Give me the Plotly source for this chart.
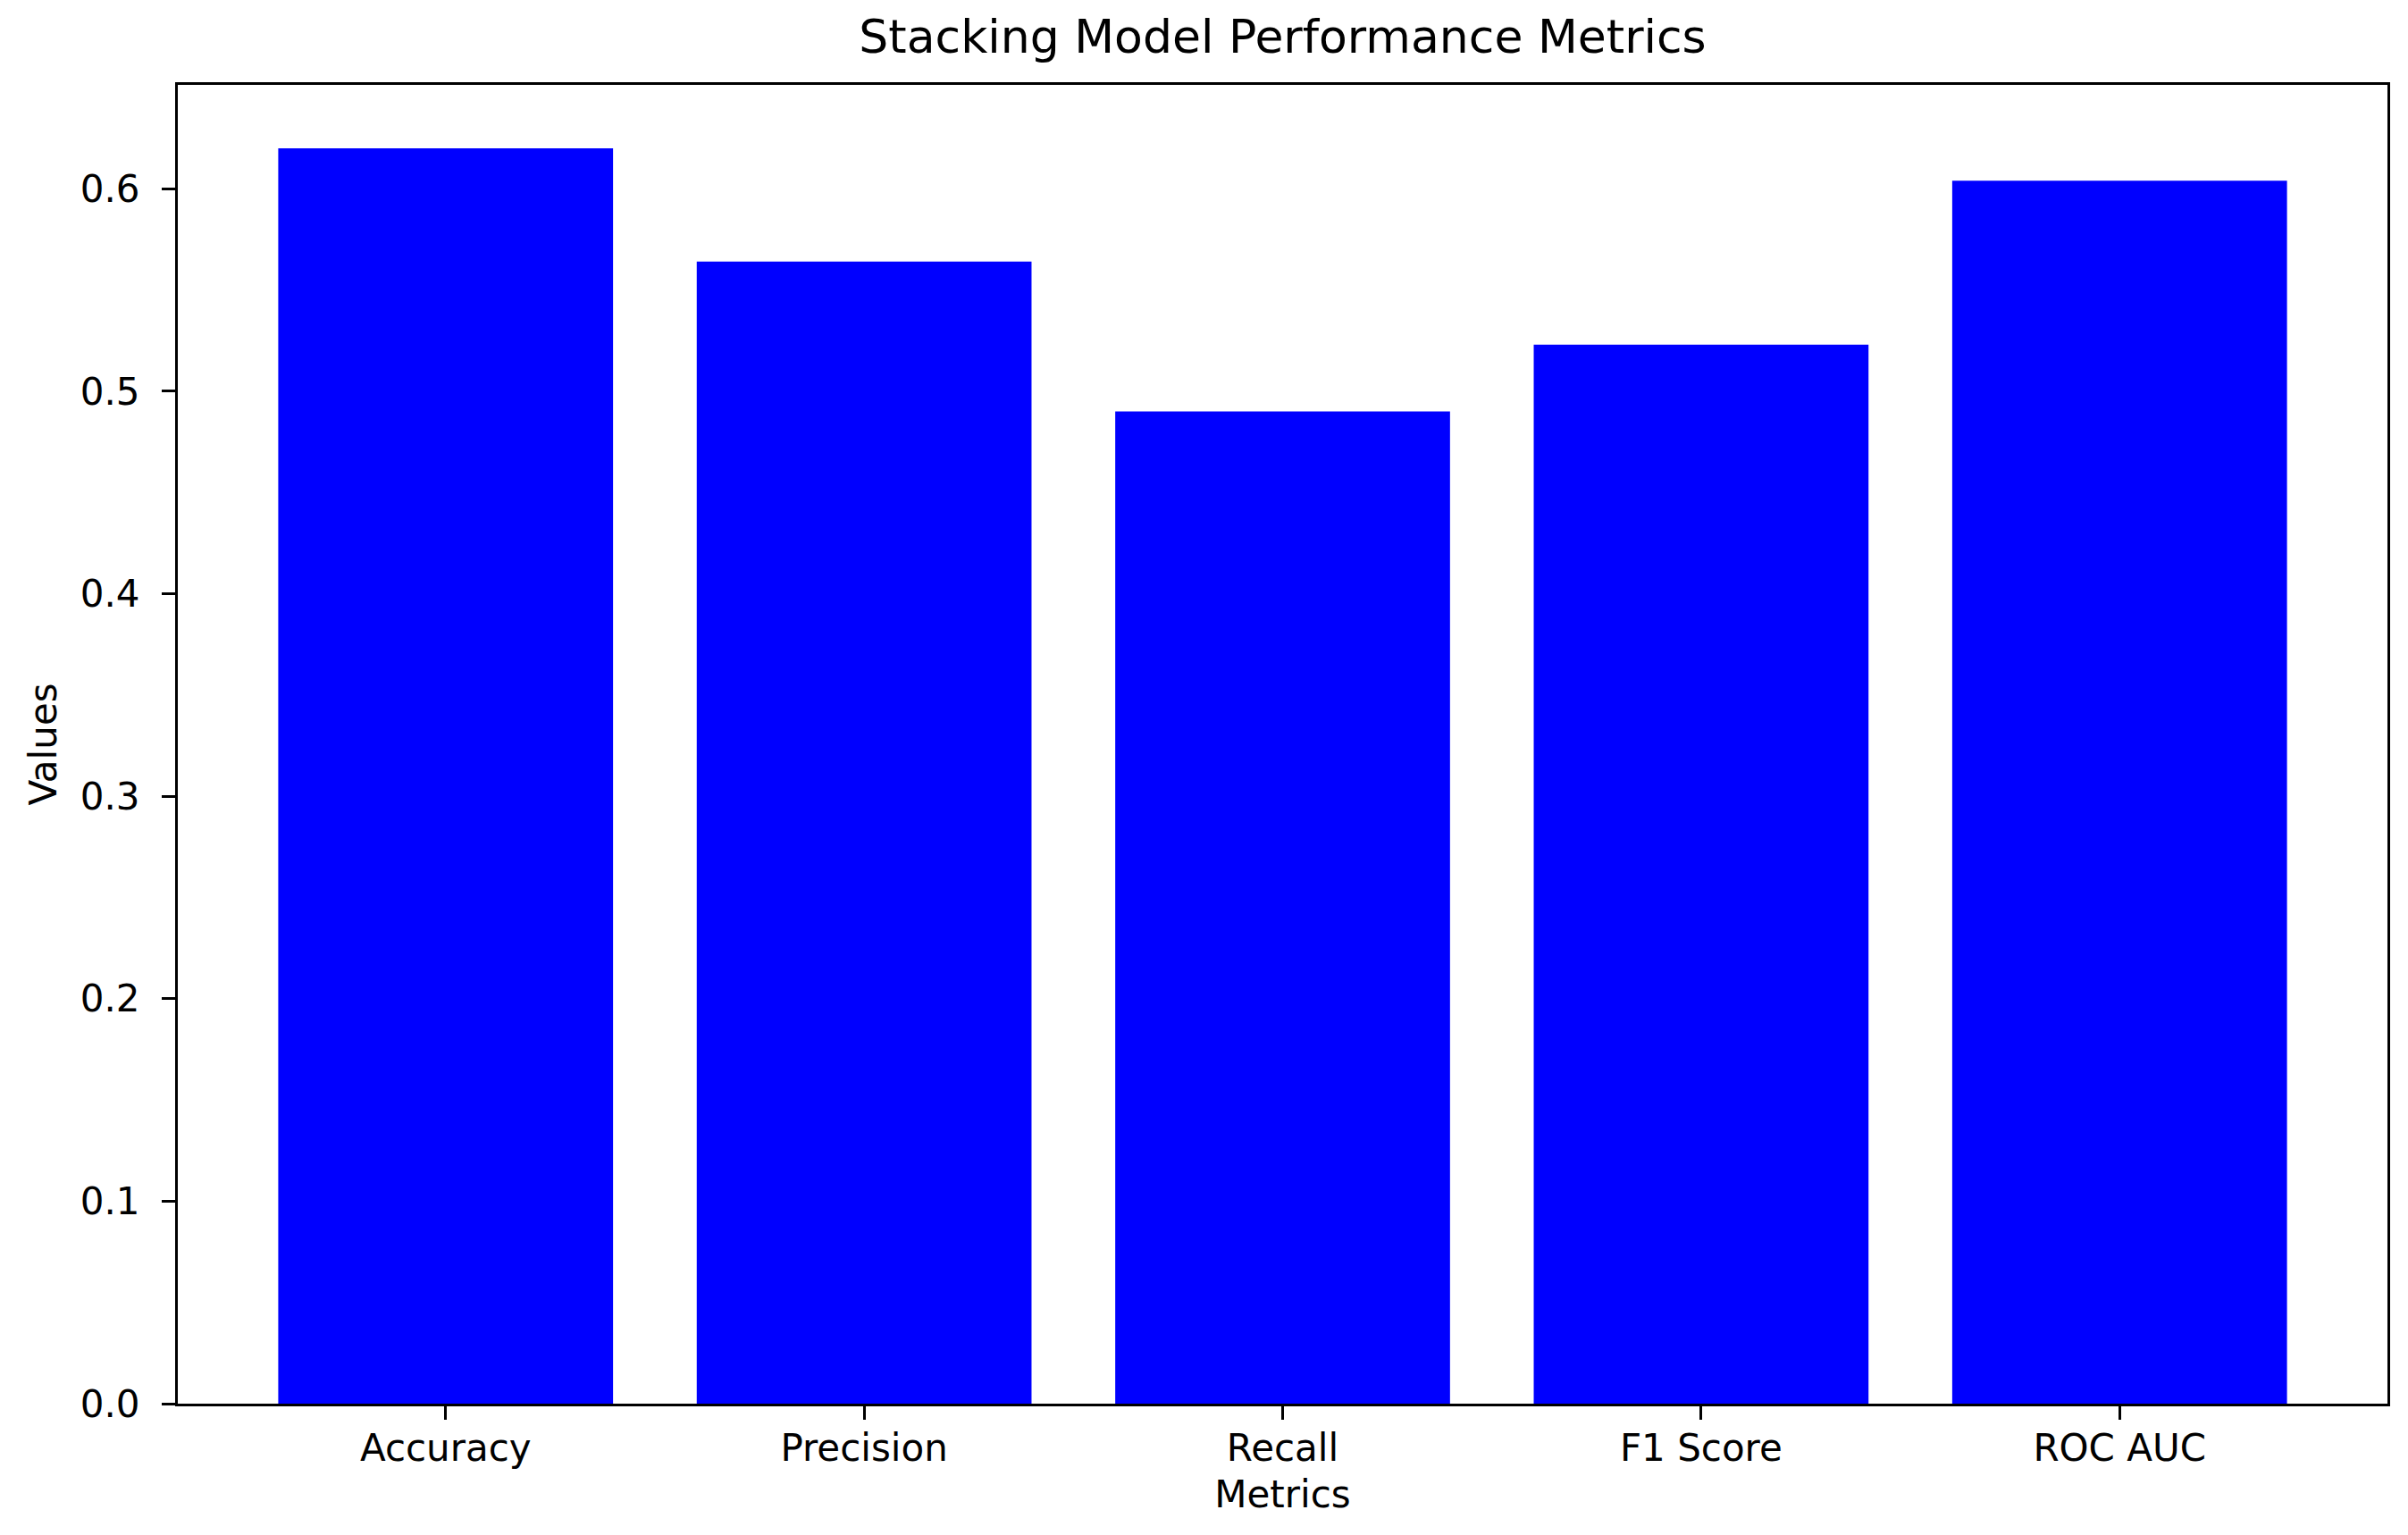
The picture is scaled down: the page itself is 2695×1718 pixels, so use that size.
import plotly.graph_objects as go

metrics = ["Accuracy", "Precision", "Recall", "F1 Score", "ROC AUC"]
values = [0.620, 0.564, 0.490, 0.523, 0.604]
y_ticks = [0.0, 0.1, 0.2, 0.3, 0.4, 0.5, 0.6]

W, H = 2695, 1718
L, R, T, B = 191, 31, 87, 155
FONT = "DejaVu Sans"

fig = go.Figure()
fig.add_trace(go.Bar(x=metrics, y=values, marker=dict(color="#0000ff", line=dict(width=0)), width=0.8))

fig.update_layout(
    width=W, height=H,
    margin=dict(l=L, r=R, t=T, b=B, autoexpand=False),
    paper_bgcolor="white", plot_bgcolor="white",
    font=dict(family=FONT, size=42, color="black"),
    showlegend=False,
    title=dict(text="Stacking Model Performance Metrics", x=0.5 * (L + (W - R)) / W, xanchor="center",
               y=1 - 33 / H, yanchor="middle", yref="container",
               font=dict(family=FONT, size=52, color="black")),
)
fig.update_xaxes(
    range=[-0.64, 4.64], showgrid=False, zeroline=False,
    showline=True, linecolor="black", linewidth=3, mirror=True,
    ticks="outside", ticklen=15, tickwidth=3, tickcolor="black",
    ticklabelstandoff=-4,
    tickfont=dict(family=FONT, size=42, color="black"),
    title=dict(text="Metrics", font=dict(family=FONT, size=42, color="black"), standoff=14),
)
fig.update_yaxes(
    range=[0, 0.6513], showgrid=False, zeroline=False,
    showline=True, linecolor="black", linewidth=3, mirror=True,
    ticks="outside", ticklen=15, tickwidth=3, tickcolor="black",
    ticklabelstandoff=16,
    tickmode="array", tickvals=y_ticks, ticktext=[f"{v:.1f}" for v in y_ticks],
    tickfont=dict(family=FONT, size=42, color="black"),
    title=dict(text="Values", font=dict(family=FONT, size=42, color="black"), standoff=14),
)

fig.write_html("out.html")
